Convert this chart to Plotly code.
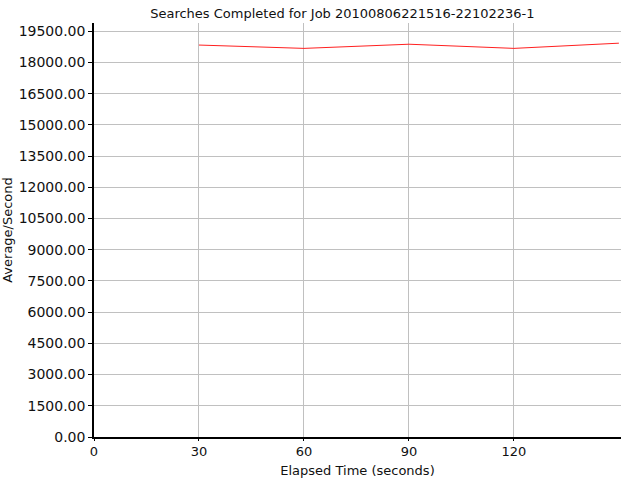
import plotly.graph_objects as go

elapsed_seconds = [30, 60, 90, 120, 150]
avg_per_second = [18840, 18680, 18880, 18680, 18930]

y_tick_values = [0, 1500, 3000, 4500, 6000, 7500, 9000, 10500, 12000, 13500, 15000, 16500, 18000, 19500]
y_tick_labels = [f"{v:.2f}" for v in y_tick_values]
x_tick_values = [0, 30, 60, 90, 120]

font_family = "DejaVu Sans"

fig = go.Figure()
fig.add_trace(go.Scatter(
    x=elapsed_seconds, y=avg_per_second, mode="lines",
    line=dict(color="#ff2020", width=1), showlegend=False, hoverinfo="skip",
))

fig.update_layout(
    width=640, height=480,
    margin=dict(l=94, r=19, t=23, b=43),
    paper_bgcolor="white", plot_bgcolor="white",
    font=dict(family=font_family, size=13, color="#111111"),
    title=dict(text="Searches Completed for Job 20100806221516-22102236-1",
               x=0.535, xanchor="center", y=0.971, yanchor="middle",
               font=dict(family=font_family, size=13, color="#111111")),
    xaxis=dict(range=[0, 150.6], tickvals=x_tick_values, ticktext=[str(v) for v in x_tick_values],
               showgrid=True, gridcolor="#c0c0c0", gridwidth=1,
               showline=True, linecolor="black", linewidth=1.5,
               ticks="outside", ticklen=2, tickcolor="black",
               zeroline=False, tickfont=dict(size=13), automargin=False,
               title=dict(text="Elapsed Time (seconds)", font=dict(size=13), standoff=8)),
    yaxis=dict(range=[0, 19900], tickvals=y_tick_values, ticktext=y_tick_labels,
               showgrid=True, gridcolor="#c0c0c0", gridwidth=1,
               showline=True, linecolor="black", linewidth=1.5,
               ticks="outside", ticklen=4, tickcolor="black",
               zeroline=False, tickfont=dict(size=14), automargin=False,
               title=dict(text="Average/Second", font=dict(size=13), standoff=3)),
)

fig.write_html("out.html", config={"displayModeBar": False},
               post_script="document.body.style.margin='0';")
